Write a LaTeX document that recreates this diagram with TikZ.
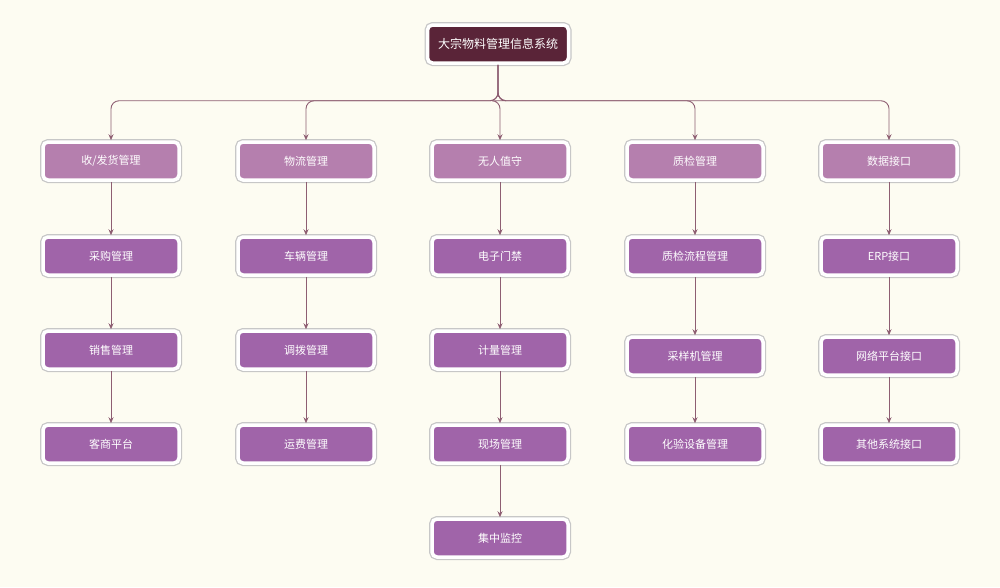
\documentclass[tikz,border=0pt]{standalone}
\usepackage{fontspec}
\setmainfont{Noto Sans CJK SC}
\usetikzlibrary{arrows.meta}
\definecolor{bgc}{HTML}{FDFCF2}
\definecolor{rootc}{HTML}{5A2438}
\definecolor{topc}{HTML}{B57FAE}
\definecolor{itemc}{HTML}{A064A9}
\definecolor{linkc}{HTML}{8E5E72}
\tikzset{
  box/.style={rectangle, rounded corners=5pt, minimum width=136pt, minimum height=38pt,
    text=white, font=\fontsize{11}{13}\selectfont, draw=white, line width=3.5pt,
    preaction={draw=black!22, line width=6pt}},
  rootbox/.style={box, fill=rootc, minimum width=141pt, font=\fontsize{12}{14}\selectfont},
  topbox/.style={box, fill=topc},
  itembox/.style={box, fill=itemc},
  link/.style={draw=linkc, line width=0.9pt, -{Stealth[length=6pt,width=5pt]}},
}
\begin{document}
\begin{tikzpicture}[x=1pt,y=-1pt]
\useasboundingbox[fill=bgc] (0,0) rectangle (1000,587);
\node[rootbox] (root) at (498,44) {大宗物料管理信息系统};
% first level
\node[topbox] (recv) at (111,161) {收/发货管理};
\node[topbox] (logi) at (306,161) {物流管理};
\node[topbox] (guard) at (500,161) {无人值守};
\node[topbox] (qc) at (695,161) {质检管理};
\node[topbox] (data) at (889,161) {数据接口};
\foreach \t in {recv,logi,guard,qc,data}
  \draw[link, rounded corners=8pt] (root.south) -- ++(0,36) -| (\t.north);
% column 1
\node[itembox] (buy) at (111,256) {采购管理};
\node[itembox] (sell) at (111,350) {销售管理};
\node[itembox] (cust) at (111,444) {客商平台};
\draw[link] (recv) -- (buy);
\draw[link] (buy) -- (sell);
\draw[link] (sell) -- (cust);
% column 2
\node[itembox] (car) at (306,256) {车辆管理};
\node[itembox] (alloc) at (306,350) {调拨管理};
\node[itembox] (fare) at (306,444) {运费管理};
\draw[link] (logi) -- (car);
\draw[link] (car) -- (alloc);
\draw[link] (alloc) -- (fare);
% column 3
\node[itembox] (door) at (500,256) {电子门禁};
\node[itembox] (meter) at (500,350) {计量管理};
\node[itembox] (site) at (500,444) {现场管理};
\node[itembox] (mon) at (500,538) {集中监控};
\draw[link] (guard) -- (door);
\draw[link] (door) -- (meter);
\draw[link] (meter) -- (site);
\draw[link] (site) -- (mon);
% column 4
\node[itembox] (flow) at (695,256) {质检流程管理};
\node[itembox] (samp) at (695,356) {采样机管理};
\node[itembox] (lab) at (695,444) {化验设备管理};
\draw[link] (qc) -- (flow);
\draw[link] (flow) -- (samp);
\draw[link] (samp) -- (lab);
% column 5
\node[itembox] (erp) at (889,256) {ERP接口};
\node[itembox] (net) at (889,356) {网络平台接口};
\node[itembox] (other) at (889,444) {其他系统接口};
\draw[link] (data) -- (erp);
\draw[link] (erp) -- (net);
\draw[link] (net) -- (other);
\end{tikzpicture}
\end{document}
